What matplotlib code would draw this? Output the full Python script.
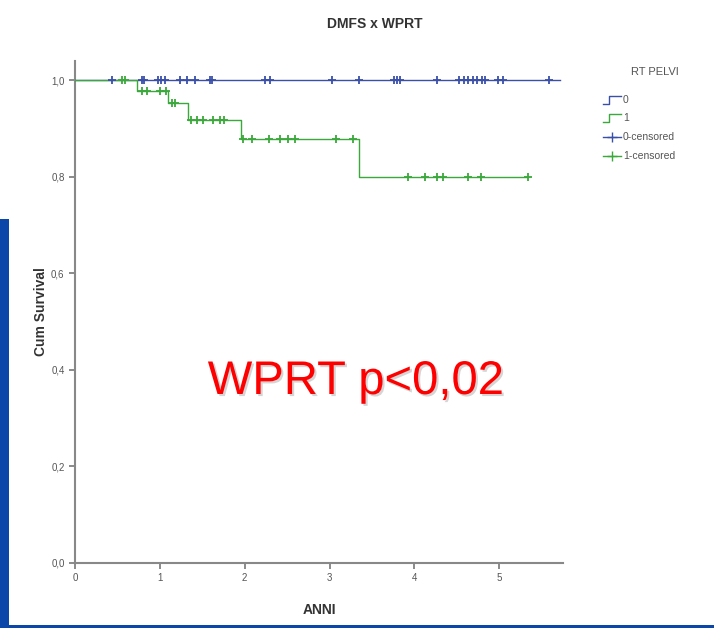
import numpy as np
import matplotlib
matplotlib.use("Agg")
import matplotlib.pyplot as plt
import matplotlib.patheffects as pe
from matplotlib.lines import Line2D
from matplotlib.patches import Rectangle

plt.rcParams['font.family'] = ['Liberation Sans', 'DejaVu Sans']

# ---- data ----
title = "DMFS x WPRT"
xlabel = "ANNI"
ylabel = "Cum Survival"
legend_title = "RT PELVI"
legend_labels = ["0", "1", "0-censored", "1-censored"]
annotation = "WPRT p<0,02"

x_ticks = [0, 1, 2, 3, 4, 5]
y_ticks = [0.0, 0.2, 0.4, 0.6, 0.8, 1.0]
y_ticklabels = ["0,0", "0,2", "0,4", "0,6", "0,8", "1,0"]

# group 0 (no RT pelvi): no events
blue_times = [0.0, 5.72]
blue_surv = [1.0, 1.0]
blue_censored = [0.44, 0.79, 0.81, 0.98, 1.01, 1.06, 1.24, 1.32, 1.41, 1.59, 1.62,
                 2.24, 2.30, 3.03, 3.35, 3.76, 3.79, 3.83, 4.27, 4.52, 4.58, 4.63,
                 4.69, 4.74, 4.80, 4.83, 4.99, 5.04, 5.58]

# group 1 (RT pelvi): step times and survival levels
green_times = [0.0, 0.73, 1.10, 1.33, 1.96, 3.35]
green_surv = [1.0, 0.977, 0.952, 0.918, 0.879, 0.80]
green_end = 5.34
green_censored = [0.55, 0.59, 0.79, 0.85, 1.00, 1.07, 1.14, 1.18, 1.37, 1.44, 1.51,
                  1.63, 1.71, 1.76, 1.98, 2.09, 2.28, 2.42, 2.51, 2.59, 3.07, 3.27,
                  3.92, 4.12, 4.27, 4.34, 4.63, 4.78, 5.34]

BLUE = "#3a4fa8"
GREEN = "#3aa83a"
GRAY = "#555555"

fig = plt.figure(figsize=(7.14, 6.28), dpi=100)
fig.patch.set_facecolor("white")

# blue slide frame
fig.patches.append(Rectangle((0, 0), 9 / 714, (628 - 219) / 628, transform=fig.transFigure,
                             facecolor="#0a47a8", edgecolor="none", zorder=0))
fig.patches.append(Rectangle((0, 0), 1, 3 / 628, transform=fig.transFigure,
                             facecolor="#0a47a8", edgecolor="none", zorder=0))

ax = fig.add_axes([75 / 714, (628 - 563) / 628, (563 - 75) / 714, (563 - 61) / 628])
ax.set_xlim(0, 5.75)
ax.set_ylim(0, 1.04)


def step_value(times, surv, t):
    i = np.searchsorted(np.asarray(times), t, side="right") - 1
    return np.asarray(surv)[i]


# blue curve
ax.step(blue_times, blue_surv, where="post", color=BLUE, lw=1.0, zorder=3)
ax.plot(blue_censored, [step_value(blue_times, blue_surv, t) for t in blue_censored],
        linestyle="none", marker="+", ms=5.5, mew=1.3, color=BLUE, zorder=4)

# green curve
gx = list(green_times) + [green_end]
gy = list(green_surv) + [green_surv[-1]]
ax.step(gx, gy, where="post", color=GREEN, lw=1.0, zorder=3)
ax.plot(green_censored, [step_value(green_times, green_surv, t) for t in green_censored],
        linestyle="none", marker="+", ms=5.5, mew=1.3, color=GREEN, zorder=4)

for s in ["top", "right"]:
    ax.spines[s].set_visible(False)
for s in ["left", "bottom"]:
    ax.spines[s].set_color("#888888")
    ax.spines[s].set_linewidth(1.5)

ax.set_xticks(x_ticks)
ax.set_xticklabels([str(v) for v in x_ticks])
ax.set_yticks(y_ticks)
ax.set_yticklabels(y_ticklabels)
ax.tick_params(axis="both", colors="#777777", labelsize=7, length=4, width=1.2,
               labelcolor=GRAY)

ax.set_xlabel(xlabel, fontsize=10, fontweight="bold", color="#333333", labelpad=14)
ax.set_ylabel(ylabel, fontsize=10, fontweight="bold", color="#333333", labelpad=2)
fig.text(375 / 714, 1 - 24 / 628, title, ha="center", va="center", fontsize=10,
         fontweight="bold", color="#333333")

# annotation with soft shadow
fig.text(356 / 714, 1 - 382 / 628, annotation, ha="center", va="center",
         fontsize=34, color="#ff0000",
         path_effects=[pe.SimplePatchShadow(offset=(1.5, -1.5), shadow_rgbFace="#888888",
                                            alpha=0.35),
                       pe.Normal()])

# legend (manual, outside the axes)
fig.text(655 / 714, 1 - 72 / 628, legend_title, ha="center", va="center",
         fontsize=8, color=GRAY)
rows = [100, 118, 137, 156]
colors = [BLUE, GREEN, BLUE, GREEN]
for i, (lab, col, ry) in enumerate(zip(legend_labels, colors, rows)):
    yf = 1 - ry / 628
    x0, x1 = 603 / 714, 621 / 714
    if i < 2:
        xs = [x0, x0 + 0.008, x0 + 0.008, x1]
        ys = [yf - 0.006, yf - 0.006, yf + 0.006, yf + 0.006]
        fig.add_artist(Line2D(xs, ys, color=col, lw=1.0, transform=fig.transFigure))
    else:
        fig.add_artist(Line2D([x0, x1], [yf, yf], color=col, lw=1.0,
                              transform=fig.transFigure))
        fig.add_artist(Line2D([(x0 + x1) / 2], [yf], color=col, marker="+", ms=7,
                              mew=1.0, linestyle="none", transform=fig.transFigure))
    fig.text(623 / 714, yf, lab, ha="left", va="center", fontsize=7.5, color=GRAY)

fig.savefig("out.png", dpi=100)
